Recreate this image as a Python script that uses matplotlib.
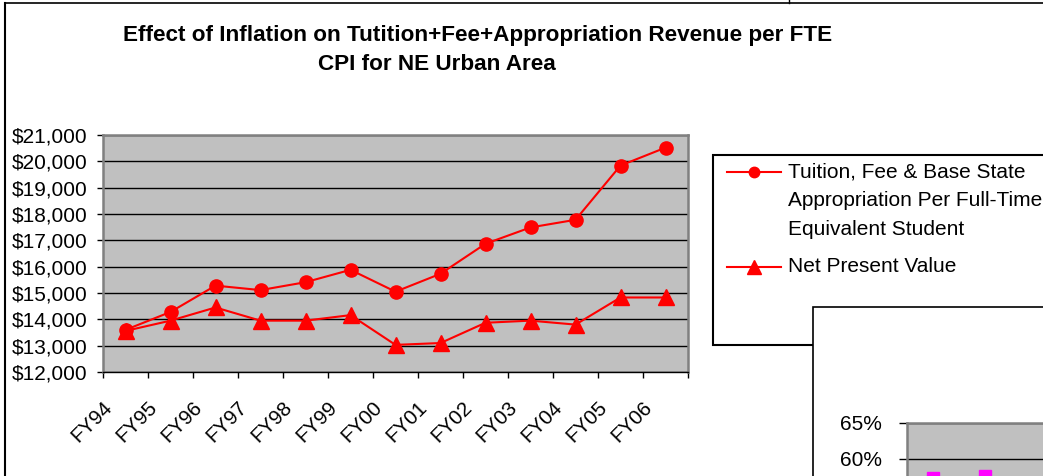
import numpy as np
import matplotlib
matplotlib.use("Agg")
import matplotlib.pyplot as plt
from matplotlib.lines import Line2D
from matplotlib.patches import Rectangle
import matplotlib.transforms as mtransforms

plt.rcParams['font.family'] = ['Liberation Sans', 'DejaVu Sans']

# ---- data ----
years = ["FY94", "FY95", "FY96", "FY97", "FY98", "FY99", "FY00",
         "FY01", "FY02", "FY03", "FY04", "FY05", "FY06"]
revenue_per_fte = [13600, 14280, 15280, 15110, 15410, 15880, 15050,
                   15730, 16870, 17490, 17780, 19840, 20520]
net_present_value = [13560, 13950, 14450, 13950, 13950, 14160, 13030,
                     13100, 13870, 13950, 13800, 14830, 14830]
y_ticks = list(range(12000, 21001, 1000))
y_tick_labels = [f"${v:,}" for v in y_ticks]
legend_labels = ["Tuition, Fee & Base State\nAppropriation Per Full-Time\nEquivalent Student",
                 "Net Present Value"]
title_line1 = "Effect of Inflation on Tutition+Fee+Appropriation Revenue per FTE"
title_line2 = "CPI for NE Urban Area"

# partially visible second chart
pct_ticks = [60, 65]
pct_labels = ["60%", "65%"]
pct_x = [0.5, 1.5]
pct_values = [57.4, 57.6]

W, H = 1043, 476
DPI = 100
fig = plt.figure(figsize=(W / DPI, H / DPI), dpi=DPI)
fig.patch.set_facecolor("white")


def fx(x):
    return x / W


def fy(y):
    return 1 - y / H


def rect_px(l, t, r, b):
    return [fx(l), fy(b), fx(r) - fx(l), fy(t) - fy(b)]


# outer chart frame
fig.add_artist(Line2D([fx(5), fx(5)], [fy(3), fy(480)], transform=fig.transFigure,
                      color="black", lw=1.5))
fig.add_artist(Line2D([fx(5), fx(1050)], [fy(3), fy(3)], transform=fig.transFigure,
                      color="black", lw=1.2))
fig.add_artist(Line2D([fx(789), fx(789)], [fy(-1), fy(3)], transform=fig.transFigure,
                      color="black", lw=1.0))

# title
fig.text(fx(478), fy(35), title_line1, ha="center", va="center",
         fontsize=16.2, fontweight="bold")
fig.text(fx(437), fy(64), title_line2, ha="center", va="center",
         fontsize=16.2, fontweight="bold")

# main axes
ax = fig.add_axes(rect_px(103, 135, 688, 372))
ax.set_facecolor("#C0C0C0")
x = np.arange(len(years))
ax.plot(x, revenue_per_fte, color="#FF0000", lw=1.5, marker="o", ms=9.5,
        markeredgecolor="#FF0000", markerfacecolor="#FF0000", zorder=3, clip_on=False)
ax.plot(x, net_present_value, color="#FF0000", lw=1.5, marker="^", ms=11,
        markeredgecolor="#FF0000", markerfacecolor="#FF0000", zorder=3, clip_on=False)
ax.set_xlim(-0.5, len(years) - 0.5)
ax.set_ylim(12000, 21000)
ax.set_yticks(y_ticks)
ax.set_yticklabels(y_tick_labels, fontsize=15)
ax.yaxis.grid(True, color="black", lw=1.0)
ax.set_axisbelow(True)
ax.tick_params(axis="y", direction="out", length=4, width=1, color="black", pad=7)
ax.set_xticks(x)
ax.set_xticklabels([])
ax.set_xticks(np.arange(len(years) + 1) - 0.5, minor=True)
ax.tick_params(axis="x", which="major", length=0)
ax.tick_params(axis="x", which="minor", direction="out", length=4, width=1, color="black")
for side in ["top", "right", "left"]:
    ax.spines[side].set_color("#808080")
    ax.spines[side].set_linewidth(1.8)
ax.spines["bottom"].set_color("black")
ax.spines["bottom"].set_linewidth(1.0)

label_tr = mtransforms.blended_transform_factory(ax.transData, ax.transAxes) + \
    mtransforms.ScaledTranslation(-10 / DPI, -26 / DPI, fig.dpi_scale_trans)
for xi, lab in zip(x, years):
    ax.text(xi, 0, lab, transform=label_tr, rotation=45, ha="right", va="top",
            fontsize=14.8)

# legend box (manual)
fig.add_artist(Rectangle((fx(713), fy(345)), fx(1100) - fx(713), fy(155) - fy(345),
                         transform=fig.transFigure, facecolor="white",
                         edgecolor="black", lw=1.5, zorder=1))
fig.add_artist(Line2D([fx(727), fx(754), fx(781)], [fy(172), fy(172), fy(172)],
                      transform=fig.transFigure, color="#FF0000", lw=1.5,
                      marker="o", ms=7.5, markevery=[1], zorder=2))
fig.add_artist(Line2D([fx(727), fx(754), fx(781)], [fy(267), fy(267), fy(267)],
                      transform=fig.transFigure, color="#FF0000", lw=1.5,
                      marker="^", ms=10, markevery=[1], zorder=2))
fig.text(fx(788), fy(163), legend_labels[0], ha="left", va="top", fontsize=15,
         linespacing=1.62, zorder=2)
fig.text(fx(788), fy(266), legend_labels[1], ha="left", va="center", fontsize=15,
         zorder=2)

# second (partially visible) chart
fig.add_artist(Rectangle((fx(813), fy(600)), fx(1200) - fx(813), fy(307) - fy(600),
                         transform=fig.transFigure, facecolor="white",
                         edgecolor="black", lw=1.2, zorder=3))
ax2 = fig.add_axes(rect_px(907, 423, 1323, 567), zorder=4)
ax2.set_facecolor("#C0C0C0")
ax2.plot(pct_x, pct_values, ls="none", marker="s", ms=8.5, color="#FF00FF")
ax2.set_xlim(0, 8)
ax2.set_ylim(45, 65)
ax2.set_yticks(pct_ticks)
ax2.set_yticklabels(pct_labels, fontsize=15)
ax2.set_xticks([])
ax2.yaxis.grid(True, color="black", lw=1.0)
ax2.set_axisbelow(True)
ax2.tick_params(axis="y", direction="out", length=6, width=1, color="black", pad=12)
for side in ["top", "right", "left", "bottom"]:
    ax2.spines[side].set_color("#808080")
    ax2.spines[side].set_linewidth(1.8)

fig.savefig("out.png", dpi=DPI)
